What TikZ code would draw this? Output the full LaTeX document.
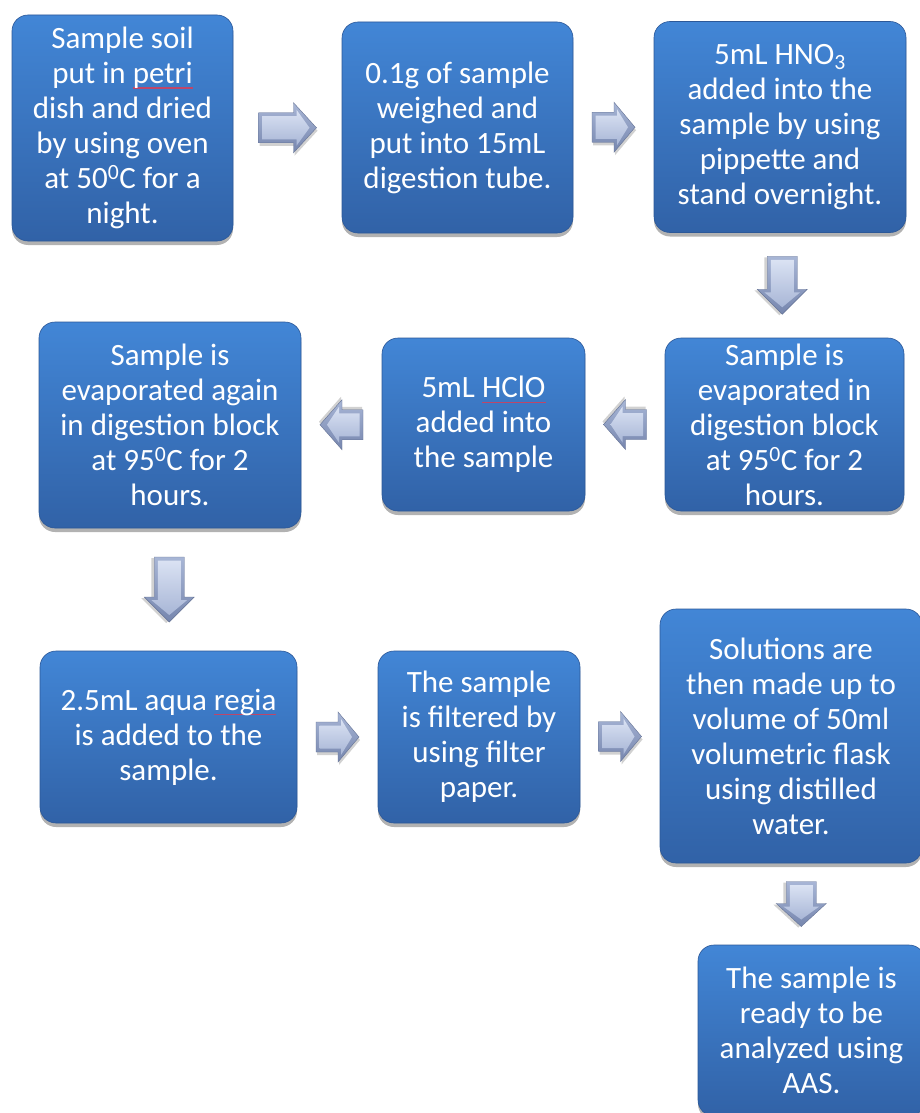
\documentclass[tikz,border=0pt]{standalone}
\usepackage{fontspec}
\setmainfont{Carlito}
\usetikzlibrary{calc,shadows}
\definecolor{boxtop}{RGB}{66,134,214}
\definecolor{boxbot}{RGB}{49,98,167}
\definecolor{boxedge}{RGB}{44,88,152}
\definecolor{arrlight}{RGB}{218,226,243}
\definecolor{arrmid}{RGB}{168,182,214}
\definecolor{arrdark}{RGB}{118,134,174}
\definecolor{squigred}{RGB}{190,70,105}
\newsavebox{\sqbox}
\newcommand{\squig}[1]{\sbox{\sqbox}{#1}\rlap{\textcolor{squigred}{\rule[-5pt]{\wd\sqbox}{1.1pt}}}\usebox{\sqbox}}
\tikzset{
  box/.style={rounded corners=16pt, top color=boxtop, bottom color=boxbot,
    draw=boxedge, line width=0.6pt, text=white, align=center, inner sep=0pt,
    font=\fontsize{31}{35}\selectfont,
    drop shadow={shadow xshift=0pt, shadow yshift=-4pt, opacity=0.3, fill=black}},
  pics/barrow/.style 2 args={code={
    \pgfmathsetmacro\xa{-#1/2}
    \pgfmathsetmacro\xb{#1/2}
    \pgfmathsetmacro\xh{#1/2-#2}
    \pgfmathsetmacro\xai{-#1/2+3.5}
    \pgfmathsetmacro\xbi{#1/2-7}
    \pgfmathsetmacro\xhi{#1/2-#2+3}
    \fill[black,opacity=0.18] ([xshift=1pt,yshift=-3pt]\xa pt,15pt) -- ([xshift=1pt,yshift=-3pt]\xh pt,15pt) -- ([xshift=1pt,yshift=-3pt]\xh pt,25pt) -- ([xshift=1pt,yshift=-3pt]\xb pt,0pt) -- ([xshift=1pt,yshift=-3pt]\xh pt,-25pt) -- ([xshift=1pt,yshift=-3pt]\xh pt,-15pt) -- ([xshift=1pt,yshift=-3pt]\xa pt,-15pt) -- cycle;
    \path[top color=arrmid, bottom color=arrdark, draw=arrdark!85!black, line width=0.4pt]
      (\xa pt,15pt) -- (\xh pt,15pt) -- (\xh pt,25pt) -- (\xb pt,0pt) -- (\xh pt,-25pt) -- (\xh pt,-15pt) -- (\xa pt,-15pt) -- cycle;
    \path[top color=arrlight, bottom color=arrmid]
      (\xai pt,11.5pt) -- (\xhi pt,11.5pt) -- (\xhi pt,18pt) -- (\xbi pt,0pt) -- (\xhi pt,-18pt) -- (\xhi pt,-11.5pt) -- (\xai pt,-11.5pt) -- cycle;
  }}
}
\begin{document}
\begin{tikzpicture}[x=1pt,y=-1pt]
\useasboundingbox (0,0) rectangle (919,1113);
\fill[white] (0,0) rectangle (919,1113);

\node[box, minimum width=221pt, minimum height=226pt] (A) at (122.5,128)
  {Sample soil\\put in \squig{petri}\\dish and dried\\by using oven\\at 50\textsuperscript{0}C for a\\night.};
\node[box, minimum width=231pt, minimum height=211pt] (B) at (457.5,127.5)
  {0.1g of sample\\weighed and\\put into 15mL\\digestion tube.};
\node[box, minimum width=252pt, minimum height=211pt] (C) at (780,127)
  {5mL HNO\textsubscript{3}\\added into the\\sample by using\\pippette and\\stand overnight.};
\node[box, minimum width=239pt, minimum height=173pt] (D) at (784.5,424.5)
  {Sample is\\evaporated in\\digestion block\\at 95\textsuperscript{0}C for 2\\hours.};
\node[box, minimum width=203pt, minimum height=173pt] (E) at (483.5,424.5)
  {5mL \squig{HClO}\\added into\\the sample};
\node[box, minimum width=262pt, minimum height=206pt] (F) at (170,425)
  {Sample is\\evaporated again\\in digestion block\\at 95\textsuperscript{0}C for 2\\hours.};
\node[box, minimum width=257pt, minimum height=172pt] (G) at (168.5,737)
  {2.5mL aqua \squig{regia}\\is added to the\\sample.};
\node[box, minimum width=202pt, minimum height=172pt] (H) at (479,737)
  {The sample\\is filtered by\\using filter\\paper.};
\node[box, minimum width=262pt, minimum height=254pt] (I) at (791,736)
  {Solutions are\\then made up to\\volume of 50ml\\volumetric flask\\using distilled\\water.};
\node[box, minimum width=227pt, minimum height=171pt] (J) at (811.5,1030.5)
  {The sample is\\ready to be\\analyzed using\\AAS.};

\pic at ($(A.east)!0.5!(B.west)$) {barrow={58}{23}};
\pic at ($(B.east)!0.5!(C.west)$) {barrow={43}{21}};
\pic[rotate=-90] at ($(C.south)!0.5!(D.north)$) {barrow={58}{25}};
\pic[rotate=180] at ($(D.west)!0.5!(E.east)$) {barrow={43}{22}};
\pic[rotate=180] at ($(E.west)!0.5!(F.east)$) {barrow={43}{22}};
\pic[rotate=-90] at ($(F.south)!0.5!(G.north)$) {barrow={65}{25}};
\pic at ($(G.east)!0.5!(H.west)$) {barrow={43}{21}};
\pic at ($(H.east)!0.5!(I.west)$) {barrow={43}{21}};
\pic[rotate=-90] at ($(I.south)!0.5!(J.north)$) {barrow={45}{23}};
\end{tikzpicture}
\end{document}
